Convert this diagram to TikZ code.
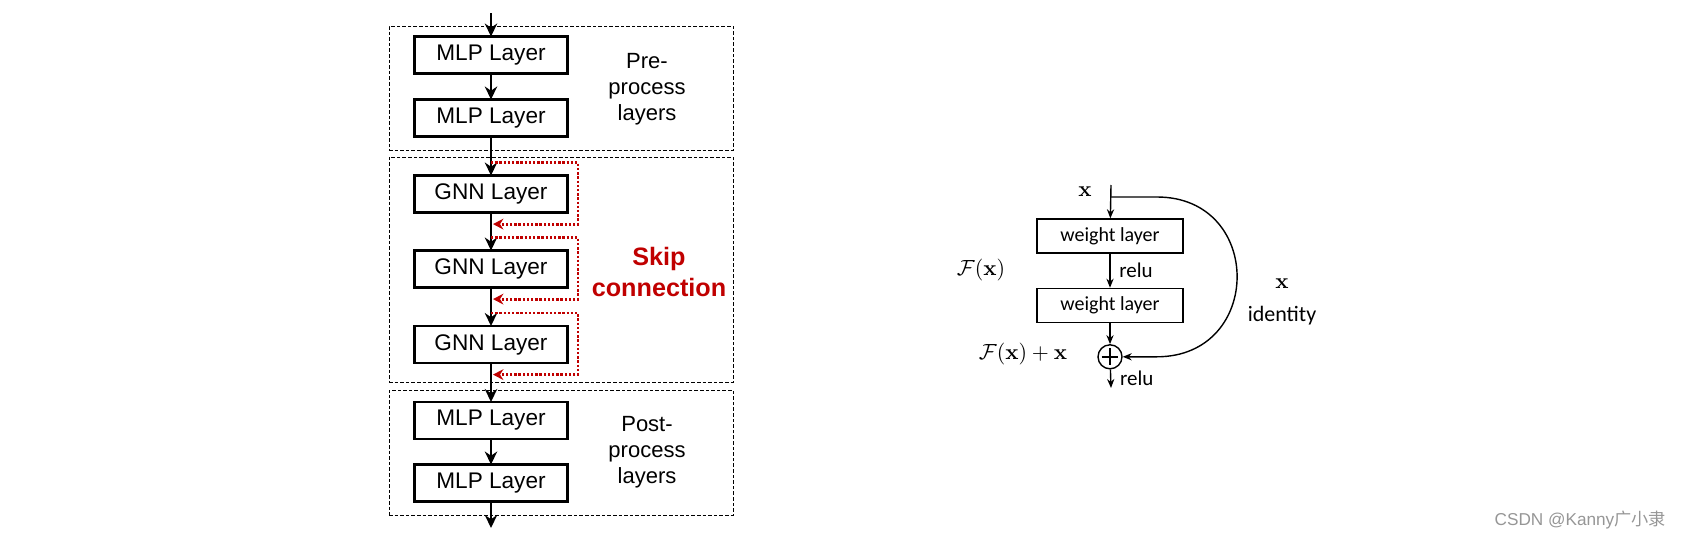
\documentclass[tikz,border=0pt]{standalone}
\usepackage{amsmath,amssymb}
\usepackage[no-math]{fontspec}
\setmainfont{Liberation Sans}
\newfontfamily\calib{Carlito}
\newfontfamily\cjk{Noto Sans CJK SC}
\usepackage{xcolor}
\usepackage{tikz}
\usetikzlibrary{arrows.meta,positioning,calc,fit}
\definecolor{skipred}{RGB}{192,0,0}
\definecolor{markgray}{RGB}{150,150,150}
\tikzstyle{layer}=[draw, line width=1.2pt, minimum width=76.5pt, minimum height=18.5pt,
  inner sep=0pt, outer sep=0pt, font=\fontsize{11.3}{13}\selectfont]
\tikzstyle{group}=[draw, line width=0.5pt, dash pattern=on 1.8pt off 1pt, inner sep=0pt]
\tikzstyle{flow}=[-{Stealth[length=6.5pt,width=6.2pt]}, line width=1pt]
\tikzstyle{skip}=[-{Stealth[length=5.2pt,width=5.4pt]}, skipred, line width=1.4pt,
  dash pattern=on 1.2pt off 0.9pt]

\begin{document}
\begin{tikzpicture}[x=0.5pt, y=-0.5pt,
  wlayer/.style={draw, line width=0.7pt, minimum width=73pt, minimum height=17pt,
                 inner sep=0pt, font=\calib\fontsize{10}{12}\selectfont},
  thin/.style={-{Stealth[length=4.5pt,width=3.6pt]}, line width=0.7pt},
  note/.style={font=\calib\fontsize{10.5}{12}\selectfont},
  lbl/.style={align=center, font=\fontsize{11}{13}\selectfont}]
\useasboundingbox (0,0) rectangle (1689,546);

% left: GNN stack
\node[group, fit={(389,26) (733,150)}]  (pre)  {};
\node[group, fit={(389,157) (733,382)}] (mid)  {};
\node[group, fit={(389,390) (733,515)}] (post) {};

\coordinate (in) at (491,13);
\node[layer] (mlpa) at (491,55) {MLP Layer};
\node[layer, below=13pt of mlpa]    (mlpb) {MLP Layer};
\node[layer, below=19.5pt of mlpb]  (gnna) {GNN Layer};
\node[layer, below=19pt of gnna]    (gnnb) {GNN Layer};
\node[layer, below=19.25pt of gnnb] (gnnc) {GNN Layer};
\node[layer, below=19.5pt of gnnc]  (mlpc) {MLP Layer};
\node[layer, below=12.75pt of mlpc] (mlpd) {MLP Layer};
\coordinate (out) at (491,528);

\node[lbl] (prelbl)  at (647,89)  {Pre-\\process\\layers};
\node[lbl] (postlbl) at (647,452) {Post-\\process\\layers};
\node[align=center, text=skipred, font=\bfseries\fontsize{12.6}{15.5}\selectfont]
  (skiplbl) at (659,272) {Skip\\connection};

\draw[flow] (in) -- (mlpa);
\draw[flow] (mlpa) -- (mlpb);
\draw[flow] (mlpb) -- (gnna);
\draw[flow] (gnna) -- (gnnb);
\draw[flow] (gnnb) -- (gnnc);
\draw[flow] (gnnc) -- (mlpc);
\draw[flow] (mlpc) -- (mlpd);
\draw[flow] (mlpd) -- (out);

\foreach \g in {gnna,gnnb,gnnc}
  \draw[skip] ([yshift=6.5pt]\g.north) -- ++(87,0) |- ([xshift=1pt,yshift=-5.8pt]\g.south);

% right: residual block
\coordinate (xin) at (1111,185);
\coordinate (split) at (1111,197);
\node[wlayer] (wla) at (1110,236) {weight layer};
\node[wlayer, below=17pt of wla] (wlb) {weight layer};
\node[draw, circle, line width=0.7pt, minimum size=12pt, inner sep=0pt, below=10.5pt of wlb,
  path picture={\draw[line width=0.7pt]
    ([yshift=4.2pt]path picture bounding box.center) -- ([yshift=-4.2pt]path picture bounding box.center)
    ([xshift=-4.2pt]path picture bounding box.center) -- ([xshift=4.2pt]path picture bounding box.center);}] (sum) {};
\coordinate (resout) at (1111,388);

\draw[thin] (xin) -- (wla);
\draw[thin] (wla) -- node[right, note, xshift=1pt] (relua) {relu} (wlb);
\draw[thin] (wlb) -- (sum);
\draw[thin] (sum) -- node[right, note, xshift=1pt] (relub) {relu} (resout);
\draw[thin] (split) -- ++(46,0) .. controls +(107,0) and +(107,0) ..
  ($(sum.east)+(34,0)$) -- (sum.east);

\node[font=\fontsize{11}{13}\selectfont] (xlab) at (1085,192) {$\mathbf{x}$};
\node[font=\fontsize{11}{13}\selectfont] (flab) at (981,270) {$\mathcal{F}(\mathbf{x})$};
\node[font=\fontsize{11}{13}\selectfont] (fxlab) at (1023,354) {$\mathcal{F}(\mathbf{x})+\mathbf{x}$};
\node[font=\fontsize{11}{13}\selectfont] (idx) at (1282,284) {$\mathbf{x}$};
\node[font=\calib\fontsize{11}{13}\selectfont] (idlab) at (1282,316) {identity};

\node[text=markgray, font=\fontsize{8.6}{10}\selectfont, anchor=east] (mark) at (1673,520)
  {CSDN @Kanny{\cjk 广小隶}};
\end{tikzpicture}
\end{document}
